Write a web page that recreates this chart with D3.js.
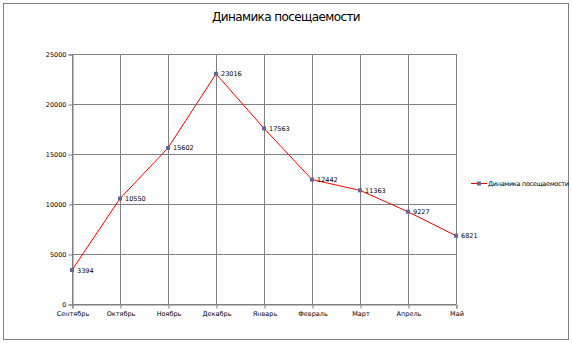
<!DOCTYPE html>
<html>
<head>
<meta charset="utf-8">
<script src="https://cdn.jsdelivr.net/npm/d3@7"></script>
<style>
  body { margin: 0; background: #fff; }
  text { font-family: "DejaVu Sans", sans-serif; }
</style>
</head>
<body>
<svg id="chart" width="572" height="343"></svg>
<script>
// данные графика
const months = ["Сентябрь", "Октябрь", "Ноябрь", "Декабрь", "Январь", "Февраль", "Март", "Апрель", "Май"];
const visits = [3394, 10550, 15602, 23016, 17563, 12442, 11363, 9227, 6821];
const yTicks = [0, 5000, 10000, 15000, 20000, 25000];
const seriesName = "Динамика посещаемости";
const title = "Динамика посещаемости";

const margin = {top: 54, left: 72},
      width = 384, height = 250;

const svg = d3.select("#chart");

svg.append("rect")
    .attr("x", 3.5).attr("y", 3.5)
    .attr("width", 565).attr("height", 336)
    .attr("fill", "#fff")
    .attr("stroke", "#808080");

svg.append("text")
    .attr("x", 286).attr("y", 21)
    .attr("text-anchor", "middle")
    .attr("font-size", "12px")
    .attr("letter-spacing", "-0.6")
    .attr("fill", "#000")
    .text(title);

const g = svg.append("g").attr("transform", `translate(${margin.left},${margin.top})`);

const x = d3.scalePoint().domain(months).range([0, width]);
const y = d3.scaleLinear().domain([0, 25000]).range([height, 0]);

// сетка
g.selectAll(".hgrid").data(yTicks).enter().append("line")
    .attr("x1", 0).attr("x2", width)
    .attr("y1", d => Math.round(y(d)) + 0.5).attr("y2", d => Math.round(y(d)) + 0.5)
    .attr("stroke", "#808080");
g.selectAll(".vgrid").data(months).enter().append("line")
    .attr("x1", d => Math.round(x(d)) + 0.5).attr("x2", d => Math.round(x(d)) + 0.5)
    .attr("y1", 0).attr("y2", height)
    .attr("stroke", "#808080");

const yAxis = g.append("g")
    .attr("transform", "translate(0.5,0.5)")
    .call(d3.axisLeft(y).tickValues(yTicks).tickSize(4).tickPadding(2).tickFormat(d3.format("d")));
const xAxis = g.append("g")
    .attr("transform", `translate(0.5,${height + 0.5})`)
    .call(d3.axisBottom(x).tickSize(4).tickPadding(3));
[yAxis, xAxis].forEach(a => {
    a.select(".domain").attr("stroke", "#808080");
    a.selectAll(".tick line").attr("stroke", "#808080");
    a.selectAll("text").attr("font-size", "6.5px").attr("fill", "#000")
        .style("font-family", "'DejaVu Sans', sans-serif");
});

g.append("path")
    .datum(visits)
    .attr("fill", "none")
    .attr("stroke", "#ff0000")
    .attr("stroke-width", 1)
    .attr("d", d3.line().x((d, i) => x(months[i])).y(d => y(d)));

g.selectAll(".pt").data(visits).enter().append("rect")
    .attr("x", (d, i) => x(months[i]) - 2)
    .attr("y", d => y(d) - 2)
    .attr("width", 4).attr("height", 4)
    .attr("fill", "#666699");

g.selectAll(".lbl").data(visits).enter().append("text")
    .attr("x", (d, i) => x(months[i]) + 5)
    .attr("y", d => y(d) + 2.5)
    .attr("font-size", "6.5px")
    .attr("fill", "#000")
    .text(d => d);

// легенда
const lg = svg.append("g").attr("transform", "translate(471,183)");
lg.append("line").attr("x1", 0).attr("x2", 16).attr("y1", 0.5).attr("y2", 0.5)
    .attr("stroke", "#ff0000");
lg.append("rect").attr("x", 6).attr("y", -1.5).attr("width", 4).attr("height", 4)
    .attr("fill", "#666699");
lg.append("text").attr("x", 17).attr("y", 3)
    .attr("font-size", "6.5px").attr("letter-spacing", "-0.3").attr("fill", "#000")
    .text(seriesName);
</script>
</body>
</html>
